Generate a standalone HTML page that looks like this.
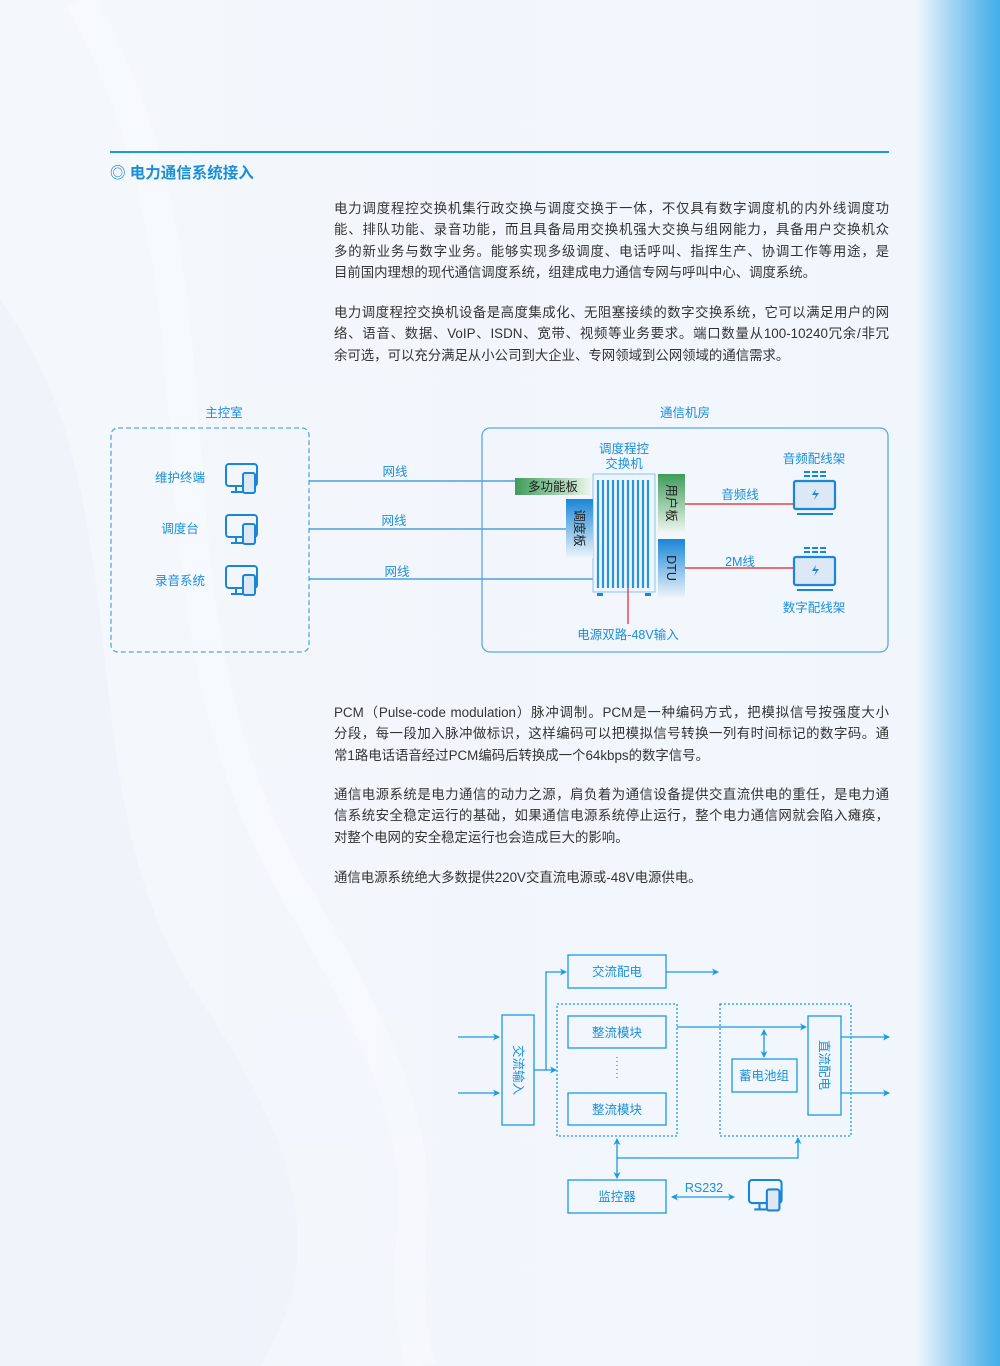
<!DOCTYPE html>
<html><head><meta charset="utf-8"><style>
*{margin:0;padding:0;box-sizing:border-box}
body{width:1000px;height:1366px;position:relative;overflow:hidden;font-family:"Liberation Sans","Noto Sans CJK SC",sans-serif;
background:linear-gradient(90deg,#f4f7fc 0,#f1f6fd 915px,#e4f1fb 922px,#a6d6f3 950px,#5bb8ec 985px,#44afe9 1000px);}
.t{position:absolute;left:334px;width:555px;font-size:13.4px;line-height:21.4px;color:#333;}
.t div{text-align:justify;text-align-last:justify;white-space:nowrap}
.t div.l{text-align-last:left}
</style></head><body>
<svg style="position:absolute;left:0;top:0" width="1000" height="1366">
<path d="M0 300 C150 500 60 800 200 1000 S300 1300 260 1366 L0 1366Z" fill="#e9f0f9" opacity=".4"/>
<path d="M80 0 C250 300 120 600 300 900 S380 1200 420 1366" stroke="#fff" stroke-width="30" fill="none" opacity=".25"/>
</svg>
<div style="position:absolute;left:110px;top:151px;width:779px;height:2px;background:#1a9be0"></div>
<div style="position:absolute;left:110px;top:161px;font-size:15.5px;font-weight:bold;color:#1a8fd8">◎ 电力通信系统接入</div>

<div class="t" style="top:198px">
<div>电力调度程控交换机集行政交换与调度交换于一体，不仅具有数字调度机的内外线调度功</div>
<div>能、排队功能、录音功能，而且具备局用交换机强大交换与组网能力，具备用户交换机众</div>
<div>多的新业务与数字业务。能够实现多级调度、电话呼叫、指挥生产、协调工作等用途，是</div>
<div class="l">目前国内理想的现代通信调度系统，组建成电力通信专网与呼叫中心、调度系统。</div>
</div>
<div class="t" style="top:302px">
<div>电力调度程控交换机设备是高度集成化、无阻塞接续的数字交换系统，它可以满足用户的网</div>
<div>络、语音、数据、VoIP、ISDN、宽带、视频等业务要求。端口数量从100-10240冗余/非冗</div>
<div class="l">余可选，可以充分满足从小公司到大企业、专网领域到公网领域的通信需求。</div>
</div>
<div class="t" style="top:702px">
<div>PCM（Pulse-code modulation）脉冲调制。PCM是一种编码方式，把模拟信号按强度大小</div>
<div>分段，每一段加入脉冲做标识，这样编码可以把模拟信号转换一列有时间标记的数字码。通</div>
<div class="l">常1路电话语音经过PCM编码后转换成一个64kbps的数字信号。</div>
</div>
<div class="t" style="top:784px">
<div>通信电源系统是电力通信的动力之源，肩负着为通信设备提供交直流供电的重任，是电力通</div>
<div>信系统安全稳定运行的基础，如果通信电源系统停止运行，整个电力通信网就会陷入瘫痪，</div>
<div class="l">对整个电网的安全稳定运行也会造成巨大的影响。</div>
</div>
<div class="t" style="top:867px"><div class="l">通信电源系统绝大多数提供220V交直流电源或-48V电源供电。</div></div>

<svg style="position:absolute;left:0;top:0" width="1000" height="1366" font-family="Liberation Sans,Noto Sans CJK SC,sans-serif" font-size="12.5" fill="#1a8fd8">
<defs>
<linearGradient id="g" x1="0" y1="0" x2="1" y2="0"><stop offset="0" stop-color="#3f9c5a"/><stop offset="1" stop-color="#eaf5ea"/></linearGradient>
<linearGradient id="gv" x1="0" y1="0" x2="0" y2="1"><stop offset="0" stop-color="#3f9c5a"/><stop offset="1" stop-color="#eef6ee"/></linearGradient>
<linearGradient id="bv" x1="0" y1="0" x2="0" y2="1"><stop offset="0" stop-color="#1a86d6"/><stop offset="1" stop-color="#eef5fc"/></linearGradient>
<marker id="a" markerWidth="8" markerHeight="8" refX="6" refY="4" orient="auto-start-reverse" markerUnits="userSpaceOnUse"><path d="M0 0.5 L7 4 L0 7.5 L2 4Z" fill="#1a9be0"/></marker>
<g id="pc" fill="none" stroke="#1a86d6" stroke-width="2"><rect x="0" y="0" width="31" height="22" rx="3"/><path d="M10 22v5M5 28h14"/><rect x="17" y="9" width="12" height="20" rx="2" fill="#dfe9f5"/></g>
<g id="rk"><path d="M10 0h6M18 0h6M26 0h6M10 4h6M18 4h6M26 4h6" stroke="#1a86d6" stroke-width="2"/><rect x="0" y="9" width="41" height="28" rx="2" fill="#dce8f5" stroke="#1a86d6" stroke-width="2.2"/><path d="M3 42h36" stroke="#1a86d6" stroke-width="2"/><path d="M22 17l-4 6h4l-2 5 5-7h-4z" fill="#1a86d6"/></g>
</defs>
<text x="224" y="417" text-anchor="middle">主控室</text>
<rect x="111" y="428" width="198" height="224" rx="7" fill="none" stroke="#5aa9df" stroke-width="1.3" stroke-dasharray="5,3"/>
<text x="180" y="482" text-anchor="middle">维护终端</text>
<text x="180" y="533" text-anchor="middle">调度台</text>
<text x="180" y="585" text-anchor="middle">录音系统</text>
<use href="#pc" x="226" y="464"/><use href="#pc" x="226" y="515"/><use href="#pc" x="226" y="566"/>
<g stroke="#2a8fd6" stroke-width="1.3"><path d="M309 481H516M309 529H566M309 579H594"/></g>
<text x="395" y="476" text-anchor="middle">网线</text><text x="394" y="525" text-anchor="middle">网线</text><text x="397" y="576" text-anchor="middle">网线</text>
<text x="685" y="417" text-anchor="middle">通信机房</text>
<rect x="482" y="428" width="406" height="224" rx="8" fill="none" stroke="#5aa9df" stroke-width="1.3"/>
<text x="624" y="453" text-anchor="middle">调度程控</text><text x="624" y="468" text-anchor="middle">交换机</text>
<rect x="593" y="474" width="62" height="118" fill="#eef5fc" stroke="#8cc4ea"/>
<g stroke="#2a94dd" stroke-width="2.2"><path d="M598 480V588M603 480V588M608 480V588M613 480V588M618 480V588M623 480V588M628 480V588M633 480V588M638 480V588M643 480V588M648 480V588"/></g>
<rect x="597" y="593" width="6" height="3" fill="#1a86d6"/><rect x="645" y="593" width="6" height="3" fill="#1a86d6"/>
<rect x="515" y="478" width="75" height="17" fill="url(#g)"/><text x="553" y="491" text-anchor="middle" fill="#222">多功能板</text>
<rect x="566" y="499" width="27" height="59" fill="url(#bv)"/><text transform="translate(575,528) rotate(90)" text-anchor="middle" fill="#222">调度板</text>
<rect x="658" y="474" width="27" height="58" fill="url(#gv)"/><text transform="translate(667,503) rotate(90)" text-anchor="middle" fill="#222">用户板</text>
<rect x="658" y="539" width="27" height="59" fill="url(#bv)"/><text transform="translate(667,568) rotate(90)" text-anchor="middle" fill="#222">DTU</text>
<g stroke="#e8404a" stroke-width="1.4"><path d="M685 504H795M685 568H795M628 588V624"/></g>
<text x="740" y="499" text-anchor="middle">音频线</text><text x="740" y="566" text-anchor="middle">2M线</text>
<text x="814" y="463" text-anchor="middle">音频配线架</text><text x="814" y="612" text-anchor="middle">数字配线架</text>
<use href="#rk" x="794" y="472"/><use href="#rk" x="794" y="548"/>
<text x="628" y="639" text-anchor="middle">电源双路-48V输入</text>

<g fill="none" stroke="#1a9be0" stroke-width="1.3">
<rect x="568" y="955" width="98" height="33"/>
<rect x="502" y="1015" width="32" height="110"/>
<rect x="557" y="1004" width="120" height="132" stroke-dasharray="2,2"/>
<rect x="568" y="1016" width="98" height="32"/><rect x="568" y="1093" width="98" height="32"/>
<rect x="720" y="1004" width="131" height="132" stroke-dasharray="2,2"/>
<rect x="808" y="1016" width="33" height="99"/>
<rect x="732" y="1059" width="65" height="33"/>
<rect x="568" y="1180" width="98" height="33"/>
<path d="M617 1057V1080" stroke-dasharray="1,3"/>
<path d="M458 1037H499" marker-end="url(#a)"/>
<path d="M458 1093H499" marker-end="url(#a)"/>
<path d="M666 972H718" marker-end="url(#a)"/>
<path d="M534 1070H556" marker-end="url(#a)"/>
<path d="M546 1070V972H566" marker-end="url(#a)"/>
<path d="M677 1027H806" marker-end="url(#a)"/>
<path d="M841 1037H889" marker-end="url(#a)"/>
<path d="M841 1093H889" marker-end="url(#a)"/>
<path d="M764 1030V1057" marker-start="url(#a)" marker-end="url(#a)"/>
<path d="M617 1139V1178" marker-start="url(#a)" marker-end="url(#a)"/>
<path d="M672 1197H734" marker-start="url(#a)" marker-end="url(#a)"/>
<path d="M617 1158H798V1138" marker-end="url(#a)"/>
</g>
<g font-size="12.5" fill="#1a8fd8" text-anchor="middle">
<text x="617" y="976">交流配电</text><text x="617" y="1037">整流模块</text><text x="617" y="1114">整流模块</text>
<text x="764" y="1080">蓄电池组</text><text x="617" y="1201">监控器</text><text x="704" y="1192">RS232</text>
<text transform="translate(514,1070) rotate(90)">交流输入</text>
<text transform="translate(820,1065) rotate(90)">直流配电</text>
</g>
<g transform="translate(749,1180) scale(1.05)"><use href="#pc"/></g>
</svg>
</body></html>
